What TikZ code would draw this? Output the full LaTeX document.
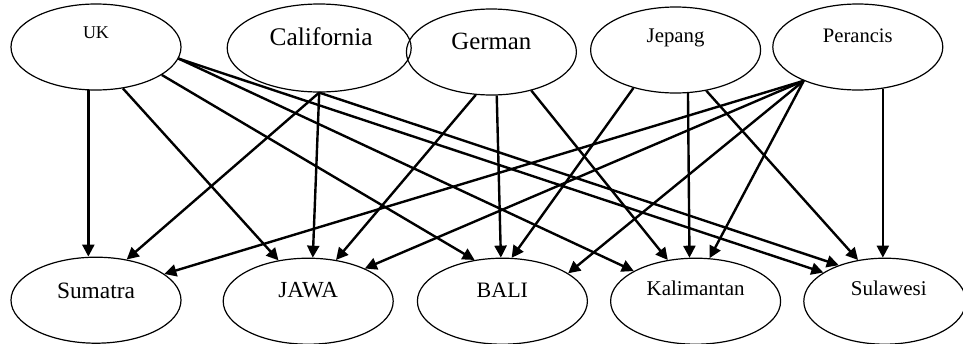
\documentclass[tikz,border=0pt]{standalone}
\usepackage{fontspec}
\setmainfont{Liberation Serif}
\usetikzlibrary{arrows.meta, positioning, shapes.geometric}

\begin{document}
\begin{tikzpicture}[
	  x=0.5pt, y=-0.5pt,
	  place/.style={
	    draw,
	    ellipse,
	    line width=0.6pt,
	    inner sep=0pt,
	    minimum width=85pt,
	    minimum height=43pt
	  },
	  bigplace/.style={place, minimum width=92pt, minimum height=44pt},
	  txt/.style n args={3}{label={[font=\fontsize{#1pt}{#1pt}\selectfont, yshift=#2]center:#3}},
	  arrow/.style={-{Triangle[length=6pt,width=6pt]}, line width=1.2pt}
	]
	
	\useasboundingbox (0,0) rectangle (963,343);
	
	\node[place, txt={9}{7pt}{UK}] (uk) at (96,47) {};
	\node[bigplace, right=22.5pt of uk, yshift=-0.5pt, txt={12.7}{5.5pt}{\hspace{2pt}California}] (california) {};
	\node[place, right=-3pt of california, yshift=-2pt, txt={12.4}{5.2pt}{German}] (german) {};
	\node[place, right=6.5pt of german, yshift=1pt, txt={10.4}{5.9pt}{Jepang}] (jepang) {};
	\node[place, right=5.5pt of jepang, yshift=1.5pt, txt={10.3}{5.4pt}{Perancis}] (perancis) {};
	
	\node[place, below=83pt of uk, txt={11.7}{4.5pt}{Sumatra}] (sumatra) {};
	\node[place, right=20.5pt of sumatra, yshift=-0.5pt, txt={11.5}{5.5pt}{JAWA}] (jawa) {};
	\node[place, right=11.5pt of jawa, txt={11}{5.5pt}{BALI}] (bali) {};
	\node[place, right=11pt of bali, txt={10.5}{6.5pt}{Kalimantan}] (kalimantan) {};
	\node[place, right=11pt of kalimantan, minimum width=81pt, txt={10.5}{6.5pt}{\hspace{4pt}Sulawesi}] (sulawesi) {};
	
	\draw[arrow] (uk.-100) -- (uk.-100 |- sumatra.north);
	\draw[arrow] (uk.-57) -- (jawa.126);
	\draw[arrow] (uk.-23) -- (bali.124);
	\draw[arrow] (uk.-8) -- (kalimantan.154);
	\draw[arrow] (uk.-8) -- (sulawesi.155);
	
	\draw[arrow] (california.south) -- (sumatra.53);
	\draw[arrow] (california.south) -- (jawa.84);
	\draw[arrow] (california.south) -- (sulawesi.142);
	
	\draw[arrow] (german.-110) -- (jawa.56);
	\draw[arrow] (german.-83) -- (bali.92);
	\draw[arrow] (german.-44) -- (kalimantan.124);
	
	\draw[arrow] (jepang.-138) -- (bali.78);
	\draw[arrow] (jepang.-74) -- (kalimantan.98);
	\draw[arrow] (jepang.-53) -- (sulawesi.123);
	
	\draw[arrow] (perancis.-148) -- (sumatra.21);
	\draw[arrow] (perancis.-148) -- (jawa.30);
	\draw[arrow] (perancis.-148) -- (bali.23);
	\draw[arrow] (perancis.-148) -- (kalimantan.72);
	\draw[arrow] (perancis.-59) -- (perancis.-59 |- sulawesi.north);
	
\end{tikzpicture}
\end{document}
